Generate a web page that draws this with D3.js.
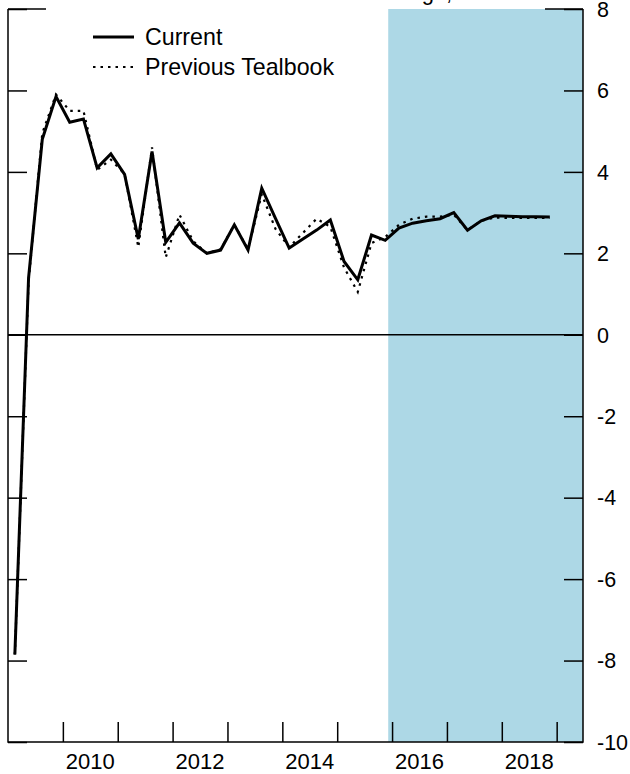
<!DOCTYPE html>
<html>
<head>
<meta charset="utf-8">
<script src="https://cdn.jsdelivr.net/npm/d3@7"></script>
<style>
  html, body { margin: 0; padding: 0; background: #fff; }
  svg { display: block; }
  text { font-family: "Liberation Sans", Arial, Helvetica, sans-serif; fill: #000; }
</style>
</head>
<body>
<svg id="chart" width="630" height="774"></svg>
<script>
// ---- data (quarterly, 2009Q1 .. 2018Q4) ----
const quarters = [
  "2009Q1","2009Q2","2009Q3","2009Q4",
  "2010Q1","2010Q2","2010Q3","2010Q4",
  "2011Q1","2011Q2","2011Q3","2011Q4",
  "2012Q1","2012Q2","2012Q3","2012Q4",
  "2013Q1","2013Q2","2013Q3","2013Q4",
  "2014Q1","2014Q2","2014Q3","2014Q4",
  "2015Q1","2015Q2","2015Q3","2015Q4",
  "2016Q1","2016Q2","2016Q3","2016Q4",
  "2017Q1","2017Q2","2017Q3","2017Q4",
  "2018Q1","2018Q2","2018Q3","2018Q4"
];
const current = [
  -7.85, 1.4, 4.8, 5.85,
  5.22, 5.3, 4.1, 4.44,
  3.94, 2.35, 4.5, 2.27,
  2.75, 2.25, 2.0, 2.08,
  2.7, 2.08, 3.6, 2.86,
  2.13, 2.35, 2.57, 2.82,
  1.8, 1.35, 2.45, 2.32,
  2.62, 2.74, 2.8, 2.85,
  3.0, 2.57, 2.8, 2.92,
  2.91, 2.9, 2.9, 2.89
];
const previous = [
  -7.85, 1.3, 4.95, 5.9,
  5.5, 5.5, 4.05, 4.3,
  3.95, 2.15, 4.6, 1.9,
  2.95, 2.3, 2.0, 2.1,
  2.7, 2.1, 3.45, 2.6,
  2.15, 2.5, 2.85, 2.65,
  1.65, 1.05, 2.25, 2.4,
  2.7, 2.85, 2.9, 2.9,
  2.95, 2.57, 2.8, 2.88,
  2.87, 2.87, 2.87, 2.87
];
const yTicks = [8, 6, 4, 2, 0, -2, -4, -6, -8, -10];
const xTickYears = [2010, 2011, 2012, 2013, 2014, 2015, 2016, 2017, 2018, 2019];
const xLabelYears = [2010, 2012, 2014, 2016, 2018];
const forecastStart = 2015.93;
const seriesNames = ["Current", "Previous Tealbook"];
const unitsLabel = "Percent change, annual rate";

// ---- layout ----
const svg = d3.select("#chart");
const pL = 8, pR = 583, pT = 9, pB = 742;
const x = d3.scaleLinear().domain([2009.0, 2019.48]).range([pL, pR]);
const y = d3.scaleLinear().domain([-10, 8]).range([pB, pT]);

const qx = q => +q.slice(0, 4) + (+q.slice(5) - 1) * 0.25 + 0.125;

// forecast shading
svg.append("rect")
  .attr("x", x(forecastStart)).attr("y", pT)
  .attr("width", pR - x(forecastStart)).attr("height", pB - pT)
  .attr("fill", "#add8e6");

// units label (mostly above the visible area, as in the reference)
svg.append("text").attr("x", 292).attr("y", 0).attr("font-size", 22).text(unitsLabel);

// zero line
svg.append("line")
  .attr("x1", pL).attr("x2", pR).attr("y1", y(0)).attr("y2", y(0))
  .attr("stroke", "#000").attr("stroke-width", 1.5);

// frame
const frame = svg.append("g").attr("stroke", "#000").attr("stroke-width", 1.5).attr("fill", "none");
frame.append("path").attr("d", `M${pL},${pT}V${pB}H${pR}V${pT}`);
frame.append("line").attr("x1", pL).attr("x2", pL + 38).attr("y1", pT).attr("y2", pT);
frame.append("line").attr("x1", pR - 38).attr("x2", pR).attr("y1", pT).attr("y2", pT);

// left ticks (inside)
const yAxisL = d3.axisRight(y).tickValues(yTicks).tickSize(19).tickFormat("");
const gL = svg.append("g").attr("transform", `translate(${pL},0)`).call(yAxisL);
gL.select(".domain").remove();
gL.selectAll("line").attr("stroke-width", 1.5);

// right ticks (inside) + labels (outside)
const yAxisR = d3.axisLeft(y).tickValues(yTicks).tickSize(19).tickFormat("");
const gR = svg.append("g").attr("transform", `translate(${pR},0)`).call(yAxisR);
gR.select(".domain").remove();
gR.selectAll("line").attr("stroke-width", 1.5);
svg.append("g").selectAll("text").data(yTicks).join("text")
  .attr("x", 597).attr("y", d => y(d)).attr("dy", "0.36em")
  .attr("font-size", 21.5).text(d => d);

// bottom ticks (inside)
const xAxis = d3.axisTop(x).tickValues(xTickYears).tickSize(20).tickFormat("");
const gB = svg.append("g").attr("transform", `translate(0,${pB})`).call(xAxis);
gB.select(".domain").remove();
gB.selectAll("line").attr("stroke-width", 1.5);
svg.append("g").selectAll("text").data(xLabelYears).join("text")
  .attr("x", d => x(d + 0.5)).attr("y", 769).attr("text-anchor", "middle")
  .attr("font-size", 22).text(d => d);

// lines
const line = d3.line().x((d, i) => x(qx(quarters[i]))).y(d => y(d));
svg.append("path").datum(previous).attr("d", line)
  .attr("fill", "none").attr("stroke", "#000").attr("stroke-width", 2.2)
  .attr("stroke-dasharray", "2.5,5");
svg.append("path").datum(current).attr("d", line)
  .attr("fill", "none").attr("stroke", "#000").attr("stroke-width", 3)
  .attr("stroke-linejoin", "miter");

// legend
const lg = svg.append("g");
lg.append("line").attr("x1", 93).attr("x2", 134).attr("y1", 37).attr("y2", 37)
  .attr("stroke", "#000").attr("stroke-width", 3);
lg.append("line").attr("x1", 93).attr("x2", 134).attr("y1", 67).attr("y2", 67)
  .attr("stroke", "#000").attr("stroke-width", 2.2).attr("stroke-dasharray", "2.5,5");
lg.append("text").attr("x", 145).attr("y", 37).attr("dy", "0.36em").attr("font-size", 23.2).text(seriesNames[0]);
lg.append("text").attr("x", 145).attr("y", 67).attr("dy", "0.36em").attr("font-size", 23.2).text(seriesNames[1]);
</script>
</body>
</html>
